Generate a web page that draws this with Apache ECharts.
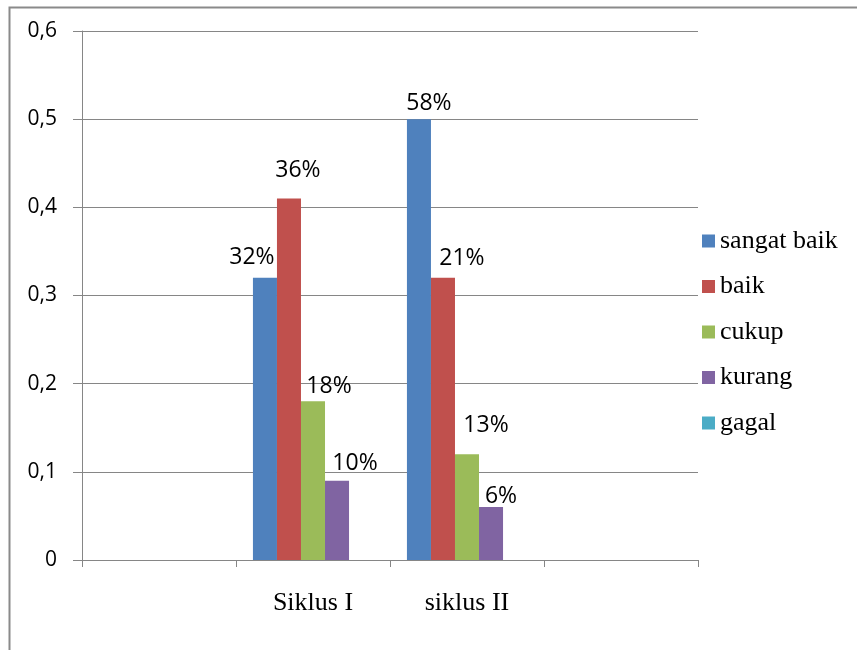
<!DOCTYPE html>
<html>
<head>
<meta charset="utf-8">
<script src="https://cdn.jsdelivr.net/npm/echarts@6/dist/echarts.min.js"></script>
<style>html,body{margin:0;padding:0;background:#fff}#c{width:857px;height:650px}</style>
</head>
<body>
<div id="c"></div>
<script>
var categories = ['', 'Siklus I', 'siklus II', ''];
var seriesNames = ['sangat baik', 'baik', 'cukup', 'kurang', 'gagal'];
var sangatBaik = [null, 0.32, 0.50, null];
var baik = [null, 0.41, 0.32, null];
var cukup = [null, 0.18, 0.12, null];
var kurang = [null, 0.09, 0.06, null];
var gagal = [null, null, null, null];
var labelsSangatBaik = ['', '32%', '58%', ''];
var labelsBaik = ['', '36%', '21%', ''];
var labelsCukup = ['', '18%', '13%', ''];
var labelsKurang = ['', '10%', '6%', ''];
var labelsGagal = ['', '', '', ''];
var yTicks = [0, 0.1, 0.2, 0.3, 0.4, 0.5, 0.6];

var colors = ['#4F81BD', '#C0504D', '#9BBB59', '#8064A2', '#4BACC6'];
var values = [sangatBaik, baik, cukup, kurang, gagal];
var labels = [labelsSangatBaik, labelsBaik, labelsCukup, labelsKurang, labelsGagal];
// label nudges (style only), per series per category
var nudges = [
  [null, [-13, -4], [10, 1], null],
  [null, [9, -12], [19, -3], null],
  [null, [16, 2], [19, -12], null],
  [null, [18, -1], [10, 6], null],
  [null, null, null, null]
];
var sansFont = '"Open Sans", "Noto Sans", sans-serif';
var serifFont = '"Liberation Serif", serif';

var series = seriesNames.map(function (name, si) {
  return {
    name: name,
    type: 'bar',
    barGap: '0%',
    barCategoryGap: '22%',
    itemStyle: { color: colors[si] },
    data: values[si].map(function (v, ci) {
      var item = { value: v };
      if (v !== null && labels[si][ci]) {
        item.label = {
          show: true,
          position: 'top',
          formatter: labels[si][ci],
          offset: nudges[si][ci] || [0, 0],
          color: '#000',
          fontFamily: sansFont,
          fontSize: 23
        };
      }
      return item;
    })
  };
});

var chart = echarts.init(document.getElementById('c'));
chart.setOption({
  animation: false,
  backgroundColor: '#fff',
  color: colors,
  graphic: [{
    type: 'rect', left: 7, top: 5, z: -1, silent: true,
    shape: { width: 900, height: 700 },
    style: { fill: 'none', stroke: '#8a8a8a', lineWidth: 2 }
  }],
  grid: { left: 82, right: 159, top: 31, bottom: 90, containLabel: false },
  legend: {
    orient: 'vertical',
    left: 697,
    top: 223,
    itemWidth: 13,
    itemHeight: 13,
    itemGap: 19.5,
    icon: 'rect',
    data: seriesNames,
    textStyle: { fontFamily: serifFont, fontSize: 26, color: '#000', lineHeight: 26 }
  },
  xAxis: {
    type: 'category',
    data: categories,
    axisLine: { lineStyle: { color: '#868686', width: 1 } },
    axisTick: { show: true, length: 7, lineStyle: { color: '#868686' } },
    axisLabel: { fontFamily: serifFont, fontSize: 26, color: '#000', margin: 30 }
  },
  yAxis: {
    type: 'value',
    min: yTicks[0],
    max: yTicks[yTicks.length - 1],
    interval: 0.1,
    axisLine: { show: true, lineStyle: { color: '#868686', width: 1 } },
    axisTick: { show: true, length: 9, lineStyle: { color: '#868686' } },
    splitLine: { lineStyle: { color: '#868686', width: 1 } },
    axisLabel: {
      fontFamily: sansFont, fontSize: 21, color: '#000', margin: 25,
      formatter: function (v) { return String(Math.round(v * 10) / 10).replace('.', ','); }
    }
  },
  series: series
});
</script>
</body>
</html>
